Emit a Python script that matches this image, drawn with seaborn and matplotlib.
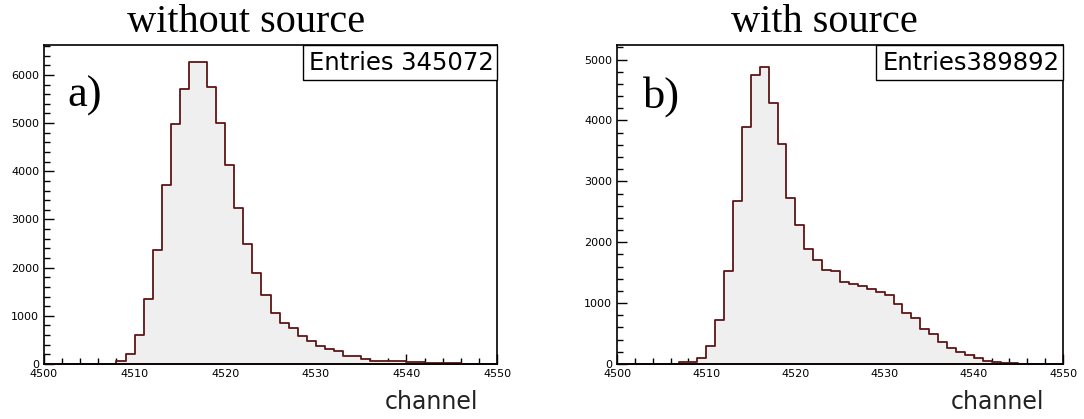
import numpy as np
import pandas as pd
import matplotlib
matplotlib.use("Agg")
import matplotlib.pyplot as plt
from matplotlib.patches import Rectangle
from matplotlib.ticker import MultipleLocator
import seaborn as sns

sns.set_style("white")
plt.rcParams["text.color"] = "black"

# channel bins (lower edges), one bin per channel
channels = list(range(4500, 4550))

# counts per channel, measurement without source
counts_without = [
    0, 0, 0, 0, 0, 0, 0, 10, 70, 208,
    604, 1354, 2375, 3715, 4990, 5717, 6272, 6272, 5755, 5010,
    4130, 3230, 2486, 1896, 1441, 1053, 845, 741, 589, 471,
    381, 312, 263, 175, 170, 104, 70, 68, 55, 52,
    35, 45, 15, 14, 12, 12, 10, 10, 8, 8,
]

# counts per channel, measurement with source
counts_with = [
    0, 0, 0, 0, 0, 0, 0, 25, 30, 92,
    288, 718, 1524, 2683, 3891, 4740, 4880, 4290, 3619, 2721,
    2286, 1894, 1703, 1551, 1524, 1344, 1322, 1279, 1224, 1181,
    1132, 980, 844, 762, 582, 490, 354, 256, 190, 147,
    93, 49, 27, 15, 10, 8, 6, 5, 4, 3,
]

titles = ["without source", "with source"]
panel_tags = ["a)", "b)"]
entries_text = ["Entries 345072", "Entries389892"]
x_label = "channel"
x_range = (4500, 4550)
y_max = [6620, 5240]

fill_color = "#efefef"
line_color = "#5e1616"

W, H = 1084, 419
fig = plt.figure(figsize=(W / 100, H / 100), dpi=100)
fig.patch.set_facecolor("white")

# axes boxes in pixel units: (left, top, right, bottom)
boxes = [(44, 45, 497, 364), (617, 45, 1063, 364)]
title_x = [246, 824]
label_x = [432, 998]
stat_left = [0.572, 0.581]
stat_bottom = 0.890
tag_x = [0.09, 0.10]

bin_edges = list(range(x_range[0], x_range[1] + 1))
for i, counts in enumerate([counts_without, counts_with]):
    l, t, r, b = boxes[i]
    ax = fig.add_axes([l / W, 1 - b / H, (r - l) / W, (b - t) / H])
    df = pd.DataFrame({"channel": [c + 0.5 for c in channels],
                       "count": [float(v) for v in counts]})
    sns.histplot(
        data=df, x="channel", weights="count", bins=bin_edges,
        element="step", fill=True, ax=ax,
        facecolor=fill_color, edgecolor=line_color, linewidth=1.3, alpha=1,
    )
    ax.set_xlim(*x_range)
    ax.set_ylim(0, y_max[i])
    ax.set_xlabel("")
    ax.set_ylabel("")
    ax.set_facecolor("white")
    for sp in ax.spines.values():
        sp.set_visible(True)
        sp.set_color("black")
        sp.set_linewidth(1.2)
        sp.set_zorder(5)

    ax.xaxis.set_major_locator(MultipleLocator(10))
    ax.xaxis.set_minor_locator(MultipleLocator(2))
    ax.yaxis.set_major_locator(MultipleLocator(1000))
    ax.yaxis.set_minor_locator(MultipleLocator(200))
    ax.tick_params(axis="both", which="major", direction="in", length=7,
                   width=1, color="black", labelsize=8, labelcolor="black")
    ax.tick_params(axis="both", which="minor", direction="in", length=4,
                   width=1, color="black")
    ax.tick_params(axis="x", which="both", bottom=True, top=False, pad=3.5)
    ax.tick_params(axis="y", which="both", left=True, right=False, pad=3.5)
    for lab in ax.get_xticklabels() + ax.get_yticklabels():
        lab.set_family("DejaVu Sans")

    # statistics box in the upper right corner
    x0 = stat_left[i]
    ax.add_patch(Rectangle((x0, stat_bottom), 1 - x0, 1 - stat_bottom,
                           transform=ax.transAxes, facecolor="white",
                           edgecolor="black", linewidth=1.0, zorder=6,
                           clip_on=False))
    ax.text(0.993, (1 + stat_bottom) / 2, entries_text[i], transform=ax.transAxes,
            ha="right", va="center", fontsize=17.5, family="DejaVu Sans",
            color="black", zorder=7)

    ax.text(tag_x[i], 0.84, panel_tags[i], transform=ax.transAxes,
            ha="center", va="center", fontsize=32, family="Liberation Serif",
            color="black")

    fig.text(title_x[i] / W, 1 - 22 / H, titles[i], ha="center", va="center",
             fontsize=29, family="Liberation Serif", color="black")
    fig.text(label_x[i] / W, 1 - 402 / H, x_label, ha="center", va="center",
             fontsize=17, family="DejaVu Sans", color="#222222")

fig.savefig("out.png", dpi=100)
